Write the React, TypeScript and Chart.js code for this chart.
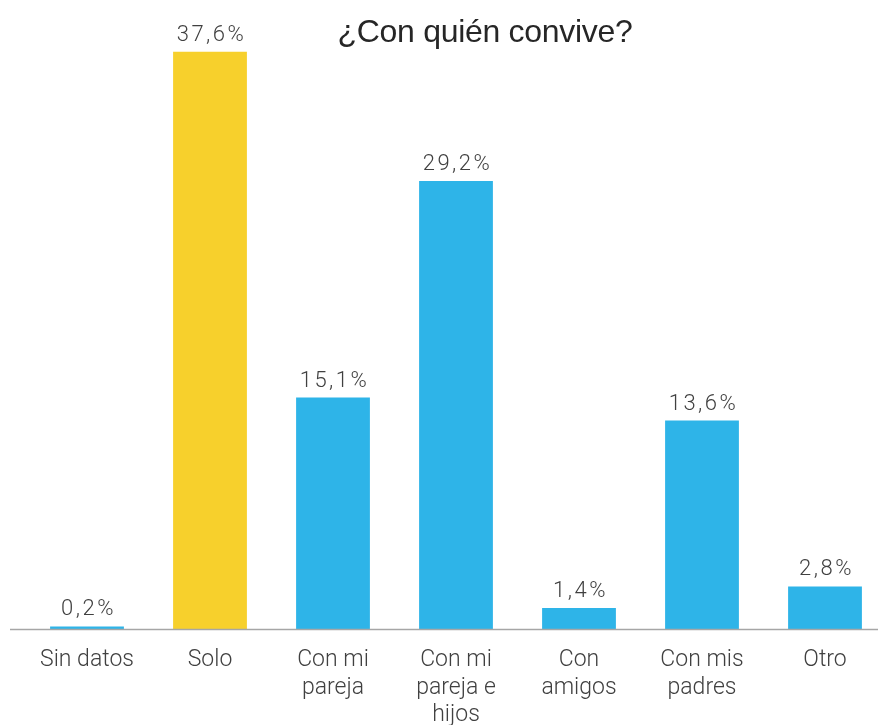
import React, { useEffect, useRef } from "react";
import { Chart, registerables } from "chart.js";

Chart.register(...registerables);

const categories: string[][] = [
  ["Sin datos"],
  ["Solo"],
  ["Con mi", "pareja"],
  ["Con mi", "pareja e", "hijos"],
  ["Con", "amigos"],
  ["Con mis", "padres"],
  ["Otro"],
];
const values: number[] = [0.2, 37.6, 15.1, 29.2, 1.4, 13.6, 2.8];
const valueLabels: string[] = ["0,2%", "37,6%", "15,1%", "29,2%", "1,4%", "13,6%", "2,8%"];
const barColors: string[] = ["#2EB4E8", "#F7D02C", "#2EB4E8", "#2EB4E8", "#2EB4E8", "#2EB4E8", "#2EB4E8"];
const titleText = "¿Con quién convive?";

const FONT = "Roboto, 'Liberation Sans', sans-serif";
const TITLE_FONT = "'Liberation Sans', Arial, sans-serif";

export default function App() {
  const ref = useRef<HTMLCanvasElement | null>(null);

  useEffect(() => {
    if (!ref.current) return;
    const overlay = {
      id: "overlay",
      afterDraw(chart: any) {
        const ctx = chart.ctx as CanvasRenderingContext2D;
        const y = chart.scales.y;
        const base = y.getPixelForValue(0);
        ctx.save();
        // axis line
        ctx.strokeStyle = "#A6A6A6";
        ctx.lineWidth = 1.5;
        ctx.beginPath();
        ctx.moveTo(10, base);
        ctx.lineTo(878, base);
        ctx.stroke();
        // value labels
        const meta = chart.getDatasetMeta(0);
        ctx.fillStyle = "#404040";
        ctx.font = `300 22px ${FONT}`;
        (ctx as any).letterSpacing = "2.5px";
        ctx.textAlign = "center";
        ctx.textBaseline = "alphabetic";
        meta.data.forEach((bar: any, i: number) => {
          ctx.fillText(valueLabels[i], bar.x + 1.5, bar.y - 11);
        });
        // title
        (ctx as any).letterSpacing = "-0.3px";
        ctx.fillStyle = "#262626";
        ctx.font = `400 32px ${TITLE_FONT}`;
        ctx.textBaseline = "alphabetic";
        ctx.fillText(titleText, 485, 42);
        ctx.restore();
      },
    };
    const chart = new Chart(ref.current, {
      type: "bar",
      data: {
        labels: categories,
        datasets: [
          {
            data: values,
            backgroundColor: barColors,
            borderWidth: 0,
            barPercentage: 0.6,
            categoryPercentage: 1,
          },
        ],
      },
      options: {
        animation: false,
        responsive: false,
        devicePixelRatio: 1,
        layout: { padding: { left: 25.5, right: 0.5, top: 15, bottom: 0 } },
        plugins: { legend: { display: false }, tooltip: { enabled: false }, title: { display: false } },
        scales: {
          x: {
            grid: { display: false, drawTicks: false },
            border: { display: false },
            ticks: {
              color: "#404040",
              font: { family: FONT, size: 23, weight: 300, lineHeight: 1.2 },
              padding: 17,
              maxRotation: 0,
              autoSkip: false,
            },
            afterFit(scale: any) {
              scale.height = 95.5;
            },
          },
          y: { display: false, min: 0, max: 40 },
        },
      },
      plugins: [overlay],
    });
    return () => chart.destroy();
  }, []);

  return (
    <div style={{ position: "fixed", left: 0, top: 0, width: 878, height: 725, overflow: "hidden", background: "#fff" }}>
      <canvas ref={ref} width={887} height={725} style={{ display: "block", width: 887, height: 725 }} />
    </div>
  );
}
